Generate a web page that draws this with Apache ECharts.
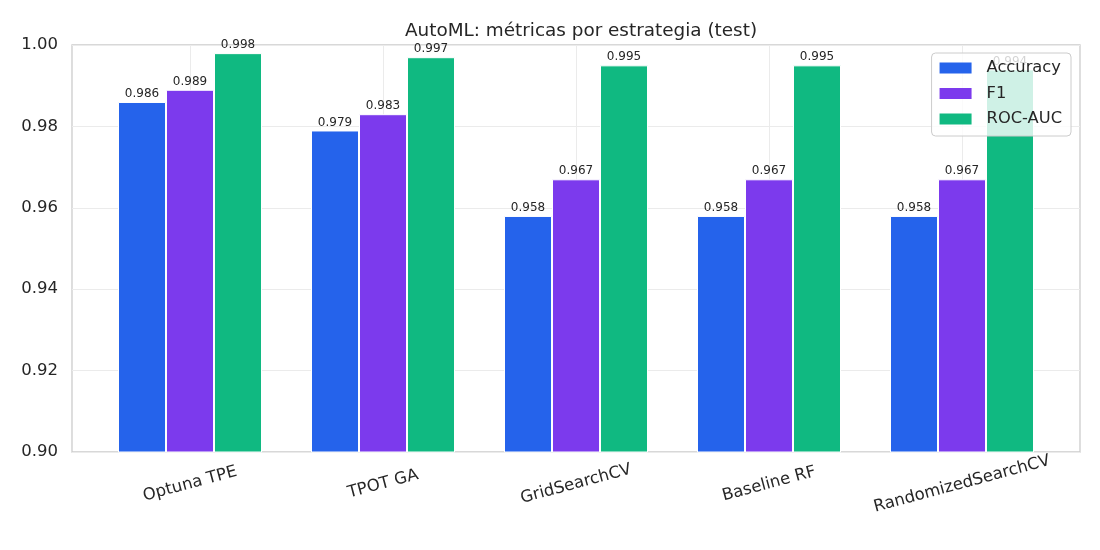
<!DOCTYPE html>
<html>
<head>
<meta charset="utf-8">
<script src="https://cdn.jsdelivr.net/npm/echarts@6/dist/echarts.min.js"></script>
<style>
  html, body { margin: 0; padding: 0; background: #fff; }
  #chart { width: 1100px; height: 550px; }
</style>
</head>
<body>
<div id="chart"></div>
<script>
// datos
const estrategias = ["Optuna TPE", "TPOT GA", "GridSearchCV", "Baseline RF", "RandomizedSearchCV"];
const accuracy = [0.986, 0.979, 0.958, 0.958, 0.958];
const f1 = [0.989, 0.983, 0.967, 0.967, 0.967];
const rocAuc = [0.998, 0.997, 0.995, 0.995, 0.994];
const metricas = ["Accuracy", "F1", "ROC-AUC"];
const colores = ["#2563eb", "#7c3aed", "#10b981"];

const FONT = "DejaVu Sans";
const TXT = "#262626";

// marco del área de dibujo
const gTop = 45, gBottom = 98, gLeft = 72, gRight = 20;
// ancho de cada categoría y centros de grupo
const paso = 193;
const primerCentro = 190;

const chart = echarts.init(document.getElementById("chart"), null, { renderer: "canvas" });

const barra = (name, data, i) => ({
  name,
  type: "bar",
  xAxisIndex: 0,
  yAxisIndex: 0,
  data,
  barWidth: 48,
  barGap: "0%",
  itemStyle: { color: colores[i], borderColor: "#ffffff", borderWidth: 1 },
  label: {
    show: true,
    position: "top",
    distance: 2,
    fontFamily: FONT,
    fontSize: 12,
    color: TXT,
    formatter: p => p.value.toFixed(3)
  },
  z: 3
});

chart.setOption({
  animation: false,
  backgroundColor: "#ffffff",
  textStyle: { fontFamily: FONT },
  title: {
    text: "AutoML: métricas por estrategia (test)",
    left: gLeft + (1100 - gLeft - gRight) / 2,
    textAlign: "center",
    top: 17,
    textStyle: { fontFamily: FONT, fontSize: 18.4, fontWeight: "normal", color: TXT }
  },
  legend: {
    data: metricas,
    orient: "vertical",
    right: 29,
    top: 53,
    padding: [7, 9, 9, 8],
    icon: "rect",
    itemWidth: 32,
    itemHeight: 11,
    itemGap: 9.5,
    backgroundColor: "rgba(255,255,255,0.8)",
    borderColor: "#cccccc",
    borderWidth: 1,
    borderRadius: 4,
    textStyle: { fontFamily: FONT, fontSize: 16.3, color: TXT, padding: [0, 0, 0, 10] },
    itemStyle: { borderWidth: 0 }
  },
  grid: [
    // barras
    { left: primerCentro - paso / 2, right: 1100 - (primerCentro + paso * 4.5), top: gTop, bottom: gBottom },
    // marco y líneas horizontales
    { left: gLeft, right: gRight, top: gTop, bottom: gBottom, show: true, borderColor: "#cccccc", borderWidth: 1.3, backgroundColor: "transparent" },
    // líneas verticales en los centros
    { left: primerCentro, right: 1100 - (primerCentro + paso * 4), top: gTop, bottom: gBottom }
  ],
  xAxis: [
    {
      type: "category",
      gridIndex: 0,
      data: estrategias,
      axisLine: { show: false },
      axisTick: { show: false },
      splitLine: { show: false },
      axisLabel: {
        rotate: 15,
        align: "center",
        verticalAlign: "middle",
        margin: 32,
        fontFamily: FONT,
        fontSize: 16.5,
        color: TXT
      }
    },
    {
      type: "category",
      gridIndex: 1,
      data: estrategias,
      show: false
    },
    {
      type: "category",
      gridIndex: 2,
      data: estrategias,
      boundaryGap: false,
      axisLine: { show: false },
      axisTick: { show: false },
      axisLabel: { show: false },
      splitLine: { show: true, lineStyle: { color: "#ebebeb", width: 1 } }
    }
  ],
  yAxis: [
    { type: "value", gridIndex: 0, min: 0.9, max: 1.0, interval: 0.02, show: false },
    {
      type: "value",
      gridIndex: 1,
      min: 0.9,
      max: 1.0,
      interval: 0.02,
      axisLine: { show: false },
      axisTick: { show: false },
      axisLabel: {
        margin: 14,
        padding: [4, 0, 0, 0],
        fontFamily: FONT,
        fontSize: 16.5,
        color: TXT,
        formatter: v => v.toFixed(2)
      },
      splitLine: { show: true, lineStyle: { color: "#ebebeb", width: 1 } }
    },
    { type: "value", gridIndex: 2, min: 0.9, max: 1.0, show: false }
  ],
  series: [
    barra(metricas[0], accuracy, 0),
    barra(metricas[1], f1, 1),
    barra(metricas[2], rocAuc, 2)
  ]
});
</script>
</body>
</html>
